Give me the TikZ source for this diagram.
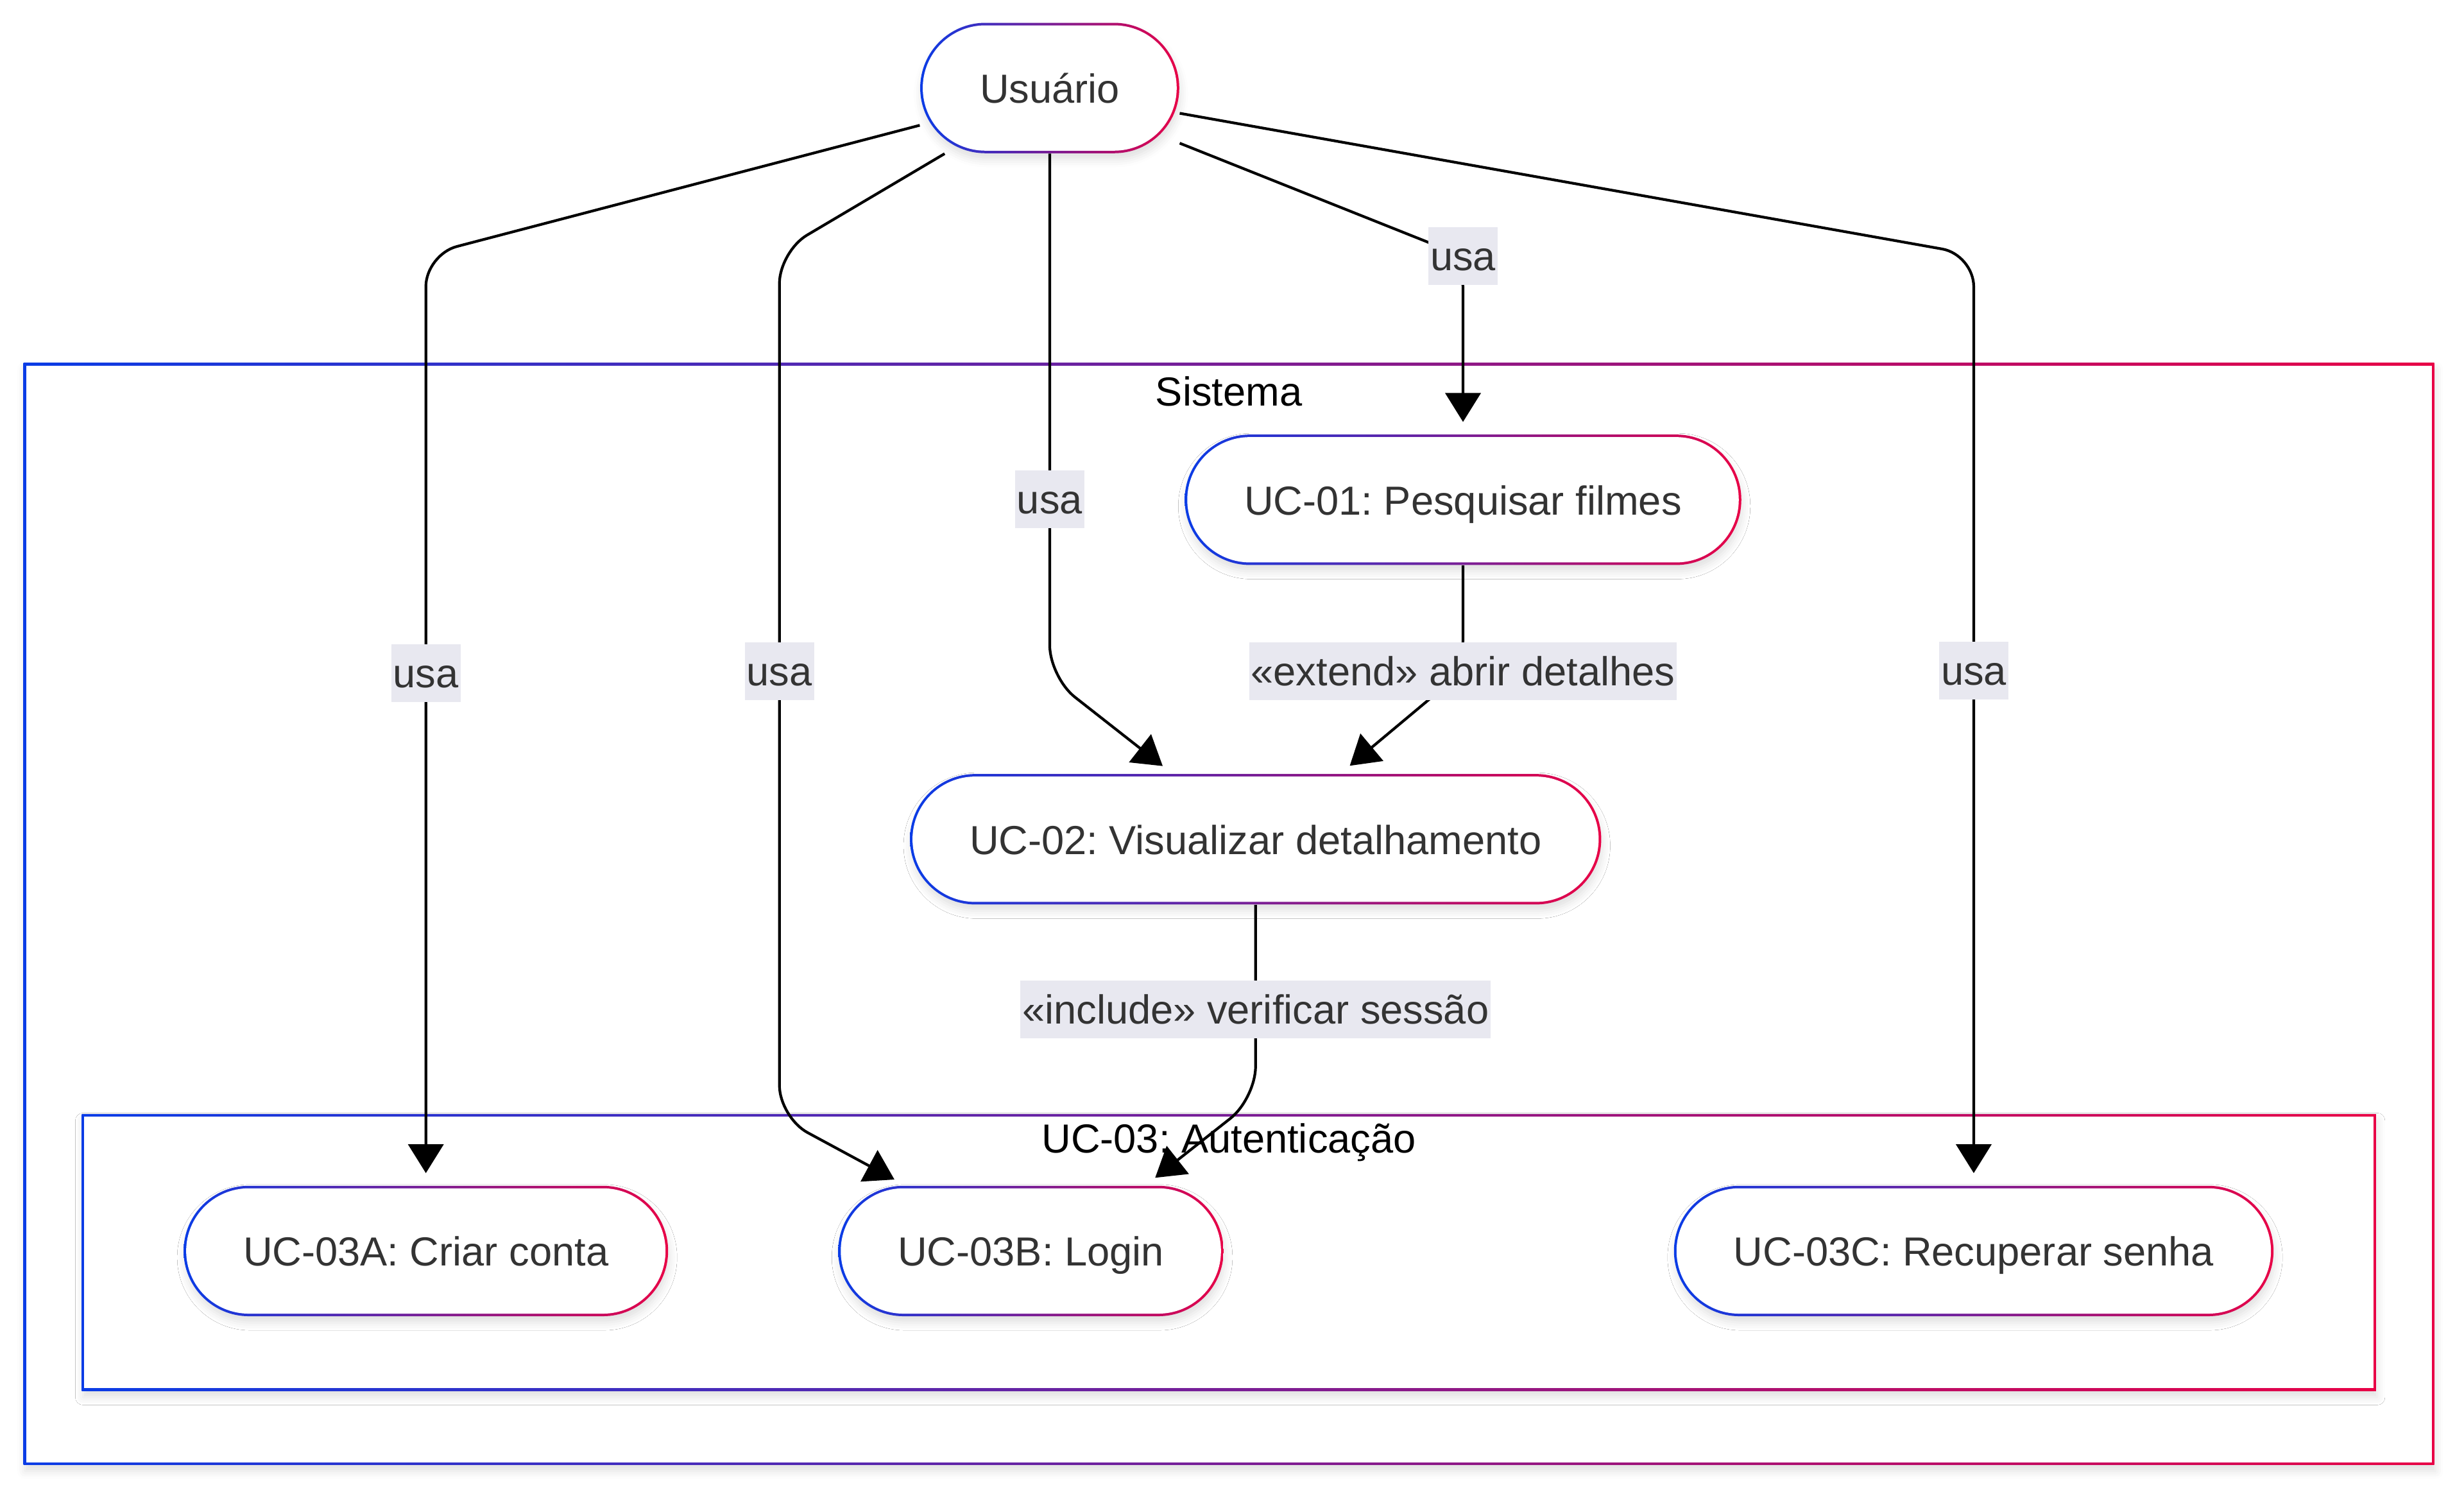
\documentclass[tikz,border=0pt]{standalone}
\usepackage{fontspec}
\setmainfont{Liberation Sans}
\frenchspacing
\usetikzlibrary{arrows.meta,shadows.blur}
\definecolor{ucblue}{RGB}{10,60,230}
\definecolor{ucred}{RGB}{232,0,70}
\definecolor{uctext}{RGB}{51,51,51}
\definecolor{lblbg}{RGB}{232,232,240}

\begin{document}
\begin{tikzpicture}[x=0.0245cm, y=-0.0245cm, font=\fontsize{18}{22}\selectfont,
    softshadow/.style={blur shadow={shadow xshift=0.02cm, shadow yshift=-0.1cm, shadow blur radius=0.12cm, shadow opacity=12}},
    usecase/.style={rectangle, rounded corners=1.017cm, minimum height=2.034cm,
      inner xsep=0.93cm, inner ysep=0pt, text height=0.6cm, text depth=0.13cm,
      left color=ucblue, right color=ucred, text=uctext, softshadow,
      path picture={\fill[white, rounded corners=0.977cm]
        ([shift={(0.04cm,0.04cm)}]path picture bounding box.south west) rectangle
        ([shift={(-0.04cm,-0.04cm)}]path picture bounding box.north east);}},
    lbl/.style={fill=lblbg, text=uctext, sharp corners, inner xsep=0.03cm,
      inner ysep=0pt, minimum height=0.9cm, text height=0.58cm, text depth=0.13cm},
    edge/.style={draw=black, line width=1.2pt, rounded corners=0.5cm,
      -{Triangle[length=0.45cm, width=0.55cm]}, shorten >=0.19cm}]

    % Define parameters
    \def\bw{1.6} % border width

    \useasboundingbox (0,0) rectangle (1568,949);

    % Sistema box
    \shade[left color=ucblue, right color=ucred, softshadow] (15,231) rectangle (1549,932);
    \fill[white] (15+\bw,231+\bw) rectangle (1549-\bw,932-\bw);
    \node (sis) at (782,249) {Sistema};

    % UC-03 box
    \shade[left color=ucblue, right color=ucred, softshadow] (52,709) rectangle (1512,885);
    \fill[white] (52+\bw,709+\bw) rectangle (1512-\bw,885-\bw);
    \node (aut) at (782,727) {UC-03: Autenticação};

    % use cases
    \node[usecase] (usr) at (668,56) {Usuário};
    \node[usecase] (uc1) at (931,318) {UC-01: Pesquisar filmes};
    \node[usecase] (uc2) at (799,534) {UC-02: Visualizar detalhamento};
    \node[usecase] (uca) at (271,796) {UC-03A: Criar conta};
    \node[usecase] (ucb) at (656,796) {UC-03B: Login};
    \node[usecase] (ucc) at (1256,796) {UC-03C: Recuperar senha};

    % usa edges
    \draw[edge] (usr.196) -- (271,162) -- node[lbl, pos=0.45] {usa} (uca.north);
    \draw[edge] (usr.212) -- (496,160) -- node[lbl, pos=0.485] {usa} (496,711) -- ([shift={(-80,0)}]ucb.north);
    \draw[edge] (usr.south) -- node[lbl, pos=0.66] {usa} (668,431) -- ([shift={(-53,0)}]uc2.north);
    \draw[edge] (usr.-23) -- (931,163) node[lbl] {usa} -- (uc1.north);
    \draw[edge] (usr.-11) -- (1256,162) -- node[lbl, pos=0.447] {usa} (ucc.north);

    % extend / include
    \draw[edge] (uc1.south) -- (931,427) node[lbl] {«extend» abrir detalhes} -- ([shift={(54,0)}]uc2.north);
    \draw[edge] (uc2.south) -- node[lbl, pos=0.54] {«include» verificar sessão} (799,699) -- ([shift={(73,0)}]ucb.north);

\end{tikzpicture}
\end{document}
